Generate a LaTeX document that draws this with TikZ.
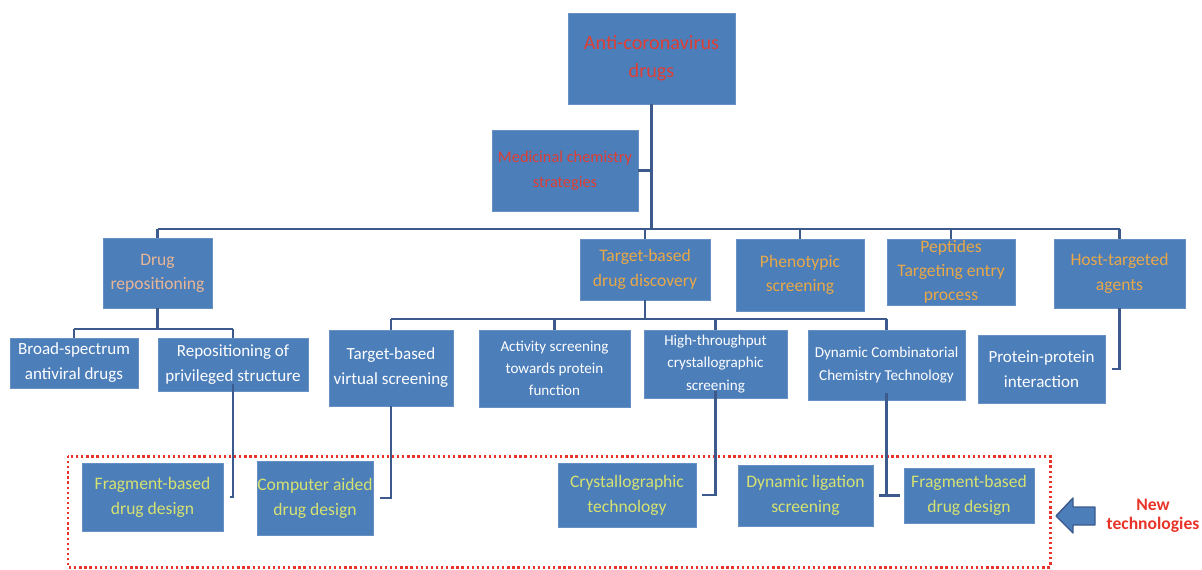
\documentclass[tikz,border=0pt]{standalone}
\usepackage{fontspec}
\setmainfont{Carlito}
\definecolor{boxblue}{RGB}{76,126,186}
\definecolor{linec}{RGB}{60,90,140}
\definecolor{redt}{RGB}{222,62,52}
\definecolor{goldt}{RGB}{232,168,72}
\definecolor{salmont}{RGB}{232,182,150}
\definecolor{yelt}{RGB}{214,226,112}
\definecolor{dashred}{RGB}{232,52,40}
\tikzset{
  box/.style={fill=boxblue, draw=boxblue!85!white, line width=0.4pt, inner sep=0pt, align=center},
  sz/.style 2 args={minimum width=#1*0.02cm, minimum height=#2*0.02cm},
  topt/.style={text=redt, font=\fontsize{11.5}{16}\selectfont},
  medt/.style={text=redt, font=\fontsize{9.3}{14.5}\selectfont},
  lvtwo/.style={text=goldt, font=\fontsize{10}{13.8}\selectfont},
  lvthree/.style={text=white, font=\fontsize{9.7}{14.2}\selectfont},
  lvsmall/.style={text=white, font=\fontsize{8.6}{12.6}\selectfont},
  newt/.style={text=yelt, font=\fontsize{10}{14.2}\selectfont},
  conn/.style={draw=linec, line width=1.6pt},
}
\begin{document}
\begin{tikzpicture}[x=0.02cm,y=-0.02cm]
\useasboundingbox (0,0) rectangle (1202,569);
% level 0 / 1
\node[box,sz={167}{91},topt] (top) at (651.5,58.5) {Anti-coronavirus\\drugs};
\node[box,sz={146}{81},medt] (med) at (565,170.5) {Medicinal chemistry\\strategies};
% level 2
\node[box,sz={109}{70},lvtwo,text=salmont] (drugrep) at (157.5,273) {Drug\\repositioning};
\node[box,sz={130}{61},lvtwo] (tbdd) at (645,269.5) {Target-based\\drug discovery};
\node[box,sz={128}{72},lvtwo] (pheno) at (800,275) {Phenotypic\\screening};
\node[box,sz={128}{66},lvtwo] (pep) at (951,272) {Peptides\\Targeting entry\\process};
\node[box,sz={131}{69},lvtwo] (host) at (1119.5,273.5) {Host-targeted\\agents};
% level 3
\node[box,sz={128}{50},lvthree] (broad) at (74,363) {Broad-spectrum\\antiviral drugs};
\node[box,sz={150}{53},lvthree] (repos) at (233,364.5) {Repositioning of\\privileged structure};
\node[box,sz={124}{76},lvthree] (tbvs) at (391,368) {Target-based\\virtual screening};
\node[box,sz={151}{77},lvsmall] (act) at (554.5,368.5) {Activity screening\\towards protein\\function};
\node[box,sz={143}{68},lvsmall] (htc) at (715.5,364) {High-throughput\\crystallographic\\screening};
\node[box,sz={157}{70},lvsmall] (dcct) at (886.5,365) {Dynamic Combinatorial\\Chemistry Technology};
\node[box,sz={127}{68},lvthree] (ppi) at (1041.5,369) {Protein-protein\\interaction};
% new technologies
\node[box,sz={141}{68},newt] (frag1) at (152.5,497) {Fragment-based\\drug design};
\node[box,sz={116}{74},newt] (cad) at (315,498) {Computer aided\\drug design};
\node[box,sz={138}{64},newt] (cryst) at (627,495) {Crystallographic\\technology};
\node[box,sz={135}{61},newt] (dls) at (805.5,495.5) {Dynamic ligation\\screening};
\node[box,sz={130}{55},newt] (frag2) at (969,495.5) {Fragment-based\\drug design};
% dashed frame
\draw[dashred, line width=1.7pt, dash pattern=on 1.3pt off 1.6pt] (68,456) rectangle (1050,567);
% arrow
\node[inner sep=0pt, align=center, text=dashred, font=\bfseries\fontsize{10}{10.5}\selectfont] (newlab) at (1153,516) {New\\technologies};
\coordinate (arrtip) at (1056,516);
\filldraw[fill=boxblue, draw=linec, line width=0.8pt, line join=round]
  (arrtip) -- (1073,498) -- (1073,507) -- (1095,507) -- (1095,525) -- (1073,525) -- (1073,533) -- cycle;
% connectors
\coordinate (busA) at (0,229);
\coordinate (busB) at (0,329);
\coordinate (busC) at (0,319);
\draw[conn] (top.south) -- (top.south |- busA);
\draw[conn] (med.east) -- (med.east -| top.south);
\draw[conn] (drugrep.north |- busA) -- (host.north |- busA);
\foreach \n in {drugrep,tbdd,pheno,pep,host}{\draw[conn] (\n.north |- busA) -- (\n.north);}
\draw[conn] (drugrep.south) -- (drugrep.south |- busB);
\draw[conn] (broad.north |- busB) -- (repos.north |- busB);
\foreach \n in {broad,repos}{\draw[conn] (\n.north |- busB) -- (\n.north);}
\draw[conn] (tbdd.south) -- (tbdd.south |- busC);
\draw[conn] (tbvs.north |- busC) -- (dcct.north |- busC);
\foreach \n in {tbvs,act,htc,dcct}{\draw[conn] (\n.north |- busC) -- (\n.north);}
\draw[conn] (host.south) |- ([xshift=4]ppi.east);
\draw[conn] ([yshift=4]repos.south) |- ([xshift=4]frag1.east);
\draw[conn] (tbvs.south) |- ([xshift=4]cad.east);
\draw[conn] ([yshift=4]htc.south) |- ([xshift=3]cryst.east);
\draw[conn] ([yshift=4]dcct.south) -- (dcct.south |- dls.east);
\draw[conn] ([xshift=3]dls.east) -- ([xshift=-2]frag2.west);
\end{tikzpicture}
\end{document}
